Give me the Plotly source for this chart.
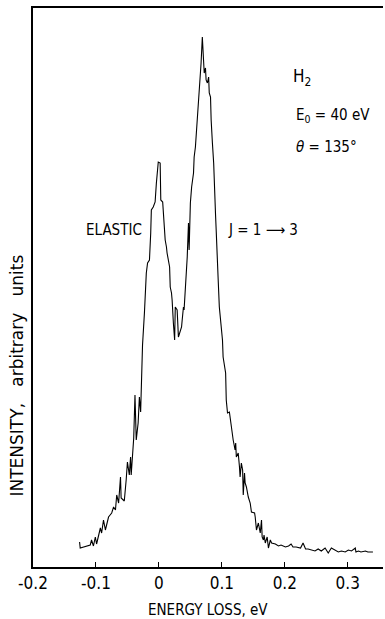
import plotly.graph_objects as go

# Energy loss (eV)
energy_loss = [
    -0.126, -0.125, -0.109, -0.107, -0.104, -0.101, -0.099, -0.093, -0.091, -0.088,
    -0.085, -0.080, -0.075, -0.072, -0.069, -0.067, -0.064, -0.061, -0.060, -0.055,
    -0.052, -0.050, -0.047, -0.045, -0.044, -0.042, -0.040, -0.038, -0.036, -0.033,
    -0.031, -0.029, -0.028, -0.026, -0.023, -0.020, -0.018, -0.015, -0.013, -0.012,
    -0.009, -0.006, -0.004, -0.001, 0.002, 0.003, 0.006, 0.010, 0.012, 0.013,
    0.017, 0.018, 0.020, 0.021, 0.023, 0.025, 0.026, 0.029, 0.031, 0.034,
    0.036, 0.037, 0.039, 0.040, 0.042, 0.044, 0.045, 0.047, 0.048, 0.050,
    0.052, 0.055, 0.056, 0.058, 0.061, 0.063, 0.064, 0.066, 0.067, 0.069,
    0.071, 0.072, 0.074, 0.075, 0.077, 0.079, 0.080, 0.082, 0.083, 0.084,
    0.085, 0.087, 0.088, 0.090, 0.091, 0.093, 0.094, 0.096, 0.099, 0.101,
    0.102, 0.106, 0.107, 0.109, 0.112, 0.113, 0.115, 0.118, 0.121, 0.122,
    0.123, 0.126, 0.128, 0.129, 0.131, 0.133, 0.134, 0.136, 0.137, 0.139,
    0.142, 0.145, 0.147, 0.152, 0.153, 0.155, 0.158, 0.161, 0.163, 0.164,
    0.166, 0.167, 0.169, 0.172, 0.174, 0.177, 0.179, 0.185, 0.190, 0.194,
    0.201, 0.206, 0.210, 0.213, 0.218, 0.225, 0.229, 0.233, 0.237, 0.242,
    0.248, 0.253, 0.258, 0.264, 0.269, 0.274, 0.280, 0.285, 0.290, 0.296,
    0.301, 0.306, 0.312, 0.313, 0.317, 0.321, 0.328, 0.332, 0.340,
]

# Intensity (arbitrary units)
intensity = [
    25, 19, 22, 27, 21, 30, 23, 39, 34, 47,
    37, 50, 54, 60, 57, 72, 64, 90, 69, 66,
    87, 105, 92, 110, 92, 117, 129, 172, 127, 144,
    170, 155, 192, 222, 254, 294, 304, 307, 334, 357,
    360, 365, 384, 405, 404, 367, 365, 327, 320, 314,
    300, 280, 274, 267, 244, 227, 260, 257, 230, 235,
    240, 247, 260, 257, 277, 294, 310, 344, 317, 364,
    380, 394, 410, 420, 447, 460, 479, 489, 504, 530,
    504, 494, 499, 487, 484, 490, 474, 470, 447, 427,
    424, 404, 377, 352, 337, 314, 290, 260, 244, 227,
    210, 194, 167, 154, 155, 150, 137, 127, 117, 124,
    110, 114, 100, 90, 104, 97, 72, 94, 84, 80,
    70, 64, 55, 54, 50, 37, 44, 34, 47, 30,
    27, 32, 24, 30, 19, 27, 24, 23, 21, 22,
    20, 21, 23, 20, 20, 19, 24, 18, 18, 17,
    16, 18, 16, 19, 14, 19, 17, 15, 16, 15,
    17, 16, 19, 15, 16, 15, 16, 15, 15,
]

tick_vals = [-0.2, -0.1, 0, 0.1, 0.2, 0.3]
tick_text = ["-0.2", "-0.1", "0", "0.1", "0.2", "0.3"]

FONT = "DejaVu Sans Condensed, sans-serif"
WIDE = "DejaVu Sans, sans-serif"

fig = go.Figure()
fig.add_trace(go.Scatter(
    x=energy_loss, y=intensity, mode="lines",
    line=dict(color="black", width=1.1), showlegend=False, hoverinfo="skip",
))

fig.update_layout(
    width=385, height=619,
    margin=dict(l=33, r=2, t=8, b=52),
    paper_bgcolor="white", plot_bgcolor="white",
    font=dict(family=FONT, color="black", size=15),
    xaxis=dict(
        range=[-0.2, 0.356], tickvals=tick_vals, ticktext=tick_text,
        ticks="inside", ticklen=5, tickwidth=1, tickcolor="black",
        showline=True, linecolor="black", linewidth=1.5, mirror=True,
        showgrid=False, zeroline=False,
        tickfont=dict(size=17, family=FONT),
    ),
    yaxis=dict(
        range=[0, 559], showticklabels=False, ticks="",
        showline=True, linecolor="black", linewidth=1.5,
        showgrid=False, zeroline=False,
    ),
    annotations=[
        dict(text="INTENSITY,   arbitrary   units", xref="paper", yref="paper",
             x=-0.045, y=0.343, xanchor="center", yanchor="middle",
             textangle=-90, showarrow=False,
             font=dict(size=17, family=WIDE)),
        dict(text="ENERGY LOSS, eV", xref="paper", yref="paper",
             x=0.5, y=-0.077, xanchor="center", yanchor="middle",
             showarrow=False, font=dict(size=15, family=FONT)),
        dict(text="ELASTIC", xref="x", yref="y", x=-0.071, y=337,
             showarrow=False, font=dict(size=15, family=FONT)),
        dict(text="J = 1 \u27f6 3", xref="x", yref="y", x=0.166, y=337,
             showarrow=False, font=dict(size=15, family=FONT)),
        dict(text="H<sub>2</sub>", xref="x", yref="y", x=0.210, y=490,
             xanchor="left", showarrow=False, font=dict(size=17, family=FONT)),
        dict(text="E<sub>0</sub> = 40 eV", xref="x", yref="y", x=0.214, y=452,
             xanchor="left", showarrow=False, font=dict(size=15, family=FONT)),
        dict(text="<i>\u03b8</i> = 135\u00b0", xref="x", yref="y", x=0.214, y=420,
             xanchor="left", showarrow=False, font=dict(size=15, family=FONT)),
    ],
)

fig.write_html("out.html")
